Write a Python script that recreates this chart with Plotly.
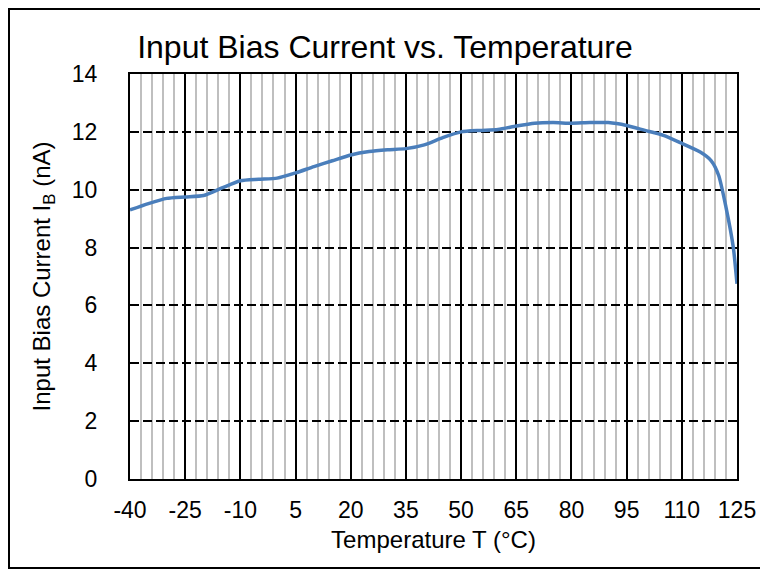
import plotly.graph_objects as go

temperature_c = [-40, -35, -30, -25, -20, -15, -10, -5, 0, 5, 10, 15, 20, 25, 30, 35, 40, 45,
                 50, 55, 60, 65, 70, 75, 80, 85, 90, 95, 100, 105, 110, 115, 118, 120, 122, 124, 125]
bias_current_na = [9.30, 9.52, 9.70, 9.75, 9.80, 10.06, 10.31, 10.36, 10.40, 10.58, 10.80, 11.00,
                   11.20, 11.32, 11.38, 11.42, 11.55, 11.80, 12.00, 12.05, 12.08, 12.20, 12.30,
                   12.32, 12.30, 12.32, 12.32, 12.22, 12.05, 11.88, 11.60, 11.30, 11.00, 10.50,
                   9.40, 8.00, 6.75]

x_ticks = [-40, -25, -10, 5, 20, 35, 50, 65, 80, 95, 110, 125]
y_ticks = [0, 2, 4, 6, 8, 10, 12, 14]

FONT = "Liberation Sans, Arial, sans-serif"

# the page body adds an 8px offset; figure coordinates below compensate for it
PL, PR, PT, PB = 122, 729, 66, 471
PW, PH = PR - PL, PB - PT

fig = go.Figure()
fig.add_trace(go.Scatter(
    x=temperature_c, y=bias_current_na, mode="lines",
    line=dict(color="#4A7EBB", width=3.5, shape="spline", smoothing=0.6),
    showlegend=False, hoverinfo="x+y",
))

fig.update_layout(
    width=768, height=572,
    paper_bgcolor="white", plot_bgcolor="white",
    margin=dict(l=PL, r=768 - PR, t=PT, b=572 - PB, pad=0),
    font=dict(family=FONT, color="black", size=23),
    title=dict(text="Input Bias Current vs. Temperature", x=377 / 768, xanchor="center",
               xref="container", y=1 - 39 / 572, yanchor="middle",
               font=dict(size=32, family=FONT, color="black")),
    xaxis=dict(
        range=[-40, 125], tickmode="array", tickvals=x_ticks,
        ticktext=[str(v) for v in x_ticks],
        showgrid=True, gridcolor="black", gridwidth=2,
        minor=dict(tick0=-40, dtick=3, showgrid=True, gridcolor="#BFBFBF", gridwidth=2),
        showline=True, linecolor="black", linewidth=2, mirror=True,
        ticks="", ticklabelstandoff=9, zeroline=False,
        title=dict(text="Temperature T (°C)", standoff=10, font=dict(size=24)),
        tickfont=dict(size=23),
    ),
    yaxis=dict(
        range=[0, 14], tickmode="array", tickvals=y_ticks,
        showgrid=True, gridcolor="black", gridwidth=2, griddash="9px,4px",
        showline=True, linecolor="black", linewidth=2, mirror=True,
        ticks="", ticklabelstandoff=26, zeroline=False,
        title=dict(text="Input Bias Current I<sub>B</sub> (nA)", standoff=14, font=dict(size=24)),
        tickfont=dict(size=23),
    ),
    shapes=[dict(
        type="rect", xref="paper", yref="paper",
        x0=(1 - PL) / PW, x1=(753 - PL) / PW,
        y0=(PB - 560) / PH, y1=(PB - 1) / PH,
        line=dict(color="black", width=2), fillcolor="rgba(0,0,0,0)", layer="above",
    )],
)

fig.write_html("out.html")
